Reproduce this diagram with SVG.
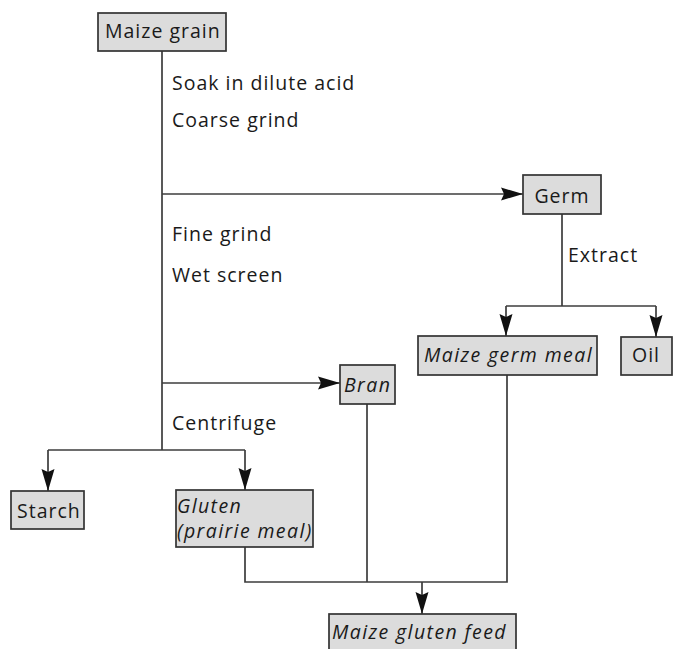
<svg xmlns="http://www.w3.org/2000/svg" width="683" height="649" viewBox="0 0 683 649">
<defs>
<marker id="ah" markerUnits="userSpaceOnUse" markerWidth="24" markerHeight="16" viewBox="-22 -8 24 16" refX="0" refY="0" orient="auto">
<path d="M0,0 L-22,-6.5 L-19,0 L-22,6.5 Z" fill="#111"/>
</marker>
</defs>
<style>
.box{fill:#dcdcdc;stroke:#333;stroke-width:1.7}
.t{font-family:"Open Sans","Noto Sans",sans-serif;font-size:19.5px;fill:#1a1a1a;letter-spacing:1px}
.i{font-style:italic;letter-spacing:1.4px}
.c{fill:none;stroke:#3c3c3c;stroke-width:1.7}
</style>
<rect width="683" height="649" fill="#fff"/>
<g id="connectors">
<path class="c" d="M162,51 V450"/>
<path class="c" d="M162,194 H523" marker-end="url(#ah)"/>
<path class="c" d="M562,214 V306"/>
<path class="c" d="M506,306 H656"/>
<path class="c" d="M506,306 V336" marker-end="url(#ah)"/>
<path class="c" d="M656,306 V337" marker-end="url(#ah)"/>
<path class="c" d="M162,383 H340" marker-end="url(#ah)"/>
<path class="c" d="M48,450 H245"/>
<path class="c" d="M48,450 V491" marker-end="url(#ah)"/>
<path class="c" d="M245,450 V490" marker-end="url(#ah)"/>
<path class="c" d="M245,547 V582 H507 V375"/>
<path class="c" d="M367,404 V582"/>
<path class="c" d="M422,582 V614" marker-end="url(#ah)"/>
</g>
<g id="labels">
<text class="t" x="172" y="90">Soak in dilute acid</text>
<text class="t" x="172" y="127">Coarse grind</text>
<text class="t" x="172" y="241">Fine grind</text>
<text class="t" x="172" y="282">Wet screen</text>
<text class="t" x="568" y="262">Extract</text>
<text class="t" x="172" y="430">Centrifuge</text>
</g>
<g id="maize-grain">
<rect class="box" x="98" y="13" width="128" height="38"/>
<text class="t" x="105" y="38">Maize grain</text>
</g>
<g id="germ">
<rect class="box" x="523" y="175" width="78" height="39"/>
<text class="t" x="562" y="203" text-anchor="middle">Germ</text>
</g>
<g id="maize-germ-meal">
<rect class="box" x="418" y="336" width="179" height="39"/>
<text class="t i" x="424" y="362">Maize germ meal</text>
</g>
<g id="oil">
<rect class="box" x="621" y="337" width="51" height="38"/>
<text class="t" x="646" y="362" text-anchor="middle">Oil</text>
</g>
<g id="bran">
<rect class="box" x="340" y="365" width="55" height="39"/>
<text class="t i" x="344" y="392">Bran</text>
</g>
<g id="starch">
<rect class="box" x="11" y="491" width="73" height="38"/>
<text class="t" x="17" y="518">Starch</text>
</g>
<g id="gluten">
<rect class="box" x="176" y="490" width="137" height="57"/>
<text class="t i" x="177" y="513">Gluten</text>
<text class="t i" x="177" y="538">(prairie meal)</text>
</g>
<g id="maize-gluten-feed">
<rect class="box" x="329" y="614" width="187" height="40"/>
<text class="t i" x="332" y="639">Maize gluten feed</text>
</g>
</svg>
